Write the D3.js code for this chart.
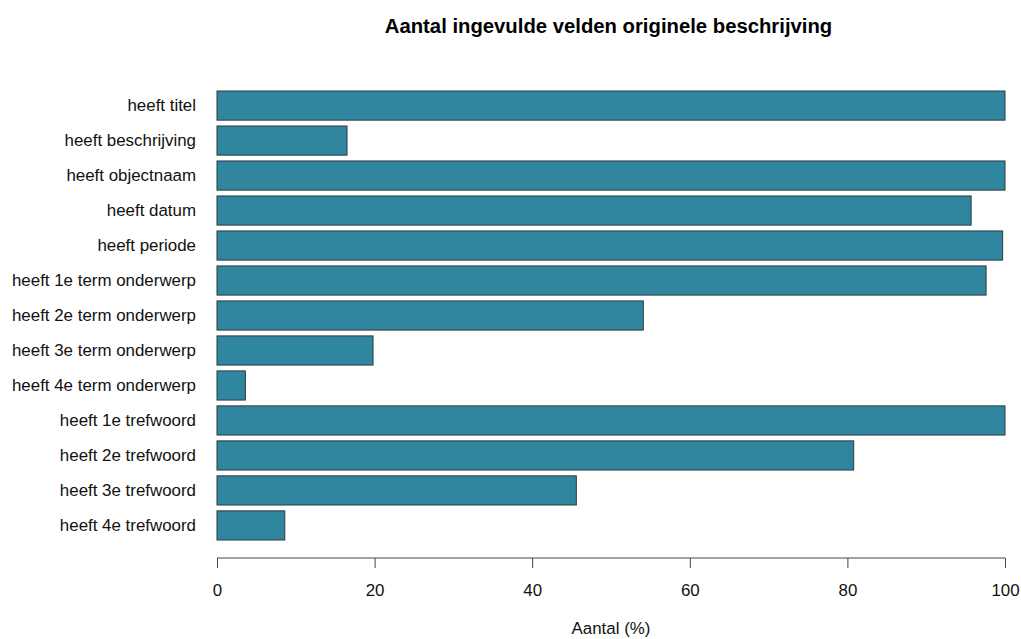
<!DOCTYPE html>
<html>
<head>
<meta charset="utf-8">
<script src="https://cdn.jsdelivr.net/npm/d3@7"></script>
<style>
  html, body { margin: 0; padding: 0; background: #ffffff; }
  svg { display: block; font-family: "Liberation Sans", Arial, Helvetica, sans-serif; }
</style>
</head>
<body>
<svg id="chart" width="1021" height="639"></svg>
<script>
const categories = [
  "heeft titel",
  "heeft beschrijving",
  "heeft objectnaam",
  "heeft datum",
  "heeft periode",
  "heeft 1e term onderwerp",
  "heeft 2e term onderwerp",
  "heeft 3e term onderwerp",
  "heeft 4e term onderwerp",
  "heeft 1e trefwoord",
  "heeft 2e trefwoord",
  "heeft 3e trefwoord",
  "heeft 4e trefwoord"
];
const values = [100, 16.5, 100, 95.7, 99.7, 97.6, 54.1, 19.8, 3.6, 100, 80.8, 45.6, 8.6];
const xTicks = [0, 20, 40, 60, 80, 100];
const titleText = "Aantal ingevulde velden originele beschrijving";
const xLabel = "Aantal (%)";

const svg = d3.select("#chart");

const x = d3.scaleLinear().domain([0, 100]).range([217, 1005]);
const y = d3.scaleBand().domain(categories).range([91, 540]).paddingInner(1/6).paddingOuter(0);

svg.append("text")
  .attr("x", 608.5).attr("y", 33)
  .attr("text-anchor", "middle")
  .attr("font-size", 20.3).attr("font-weight", "bold")
  .attr("fill", "#000")
  .text(titleText);

svg.append("g").selectAll("rect")
  .data(categories)
  .join("rect")
  .attr("x", x(0))
  .attr("y", d => y(d))
  .attr("width", (d, i) => x(values[i]) - x(0))
  .attr("height", y.bandwidth())
  .attr("fill", "#31869f")
  .attr("stroke", "#2b3a40")
  .attr("stroke-width", 1);

svg.append("g").selectAll("text")
  .data(categories)
  .join("text")
  .attr("x", 196)
  .attr("y", d => y(d) + y.bandwidth() / 2)
  .attr("dy", "0.35em")
  .attr("text-anchor", "end")
  .attr("font-size", 16.9)
  .attr("fill", "#111")
  .text(d => d);

const axis = d3.axisBottom(x).tickValues(xTicks).tickSize(10).tickPadding(16).tickFormat(d3.format("d"));
const gAxis = svg.append("g").attr("transform", "translate(0,558)").call(axis);
gAxis.attr("font-size", null).attr("font-family", null);
gAxis.select(".domain").attr("stroke", "#444").attr("d", `M${x(0)},0H${x(100)}`);
gAxis.selectAll(".tick line").attr("stroke", "#444");
gAxis.selectAll(".tick text").attr("font-size", 16.9).attr("fill", "#111");

svg.append("text")
  .attr("x", x(50)).attr("y", 634)
  .attr("text-anchor", "middle")
  .attr("font-size", 16.9)
  .attr("fill", "#111")
  .text(xLabel);
</script>
</body>
</html>
